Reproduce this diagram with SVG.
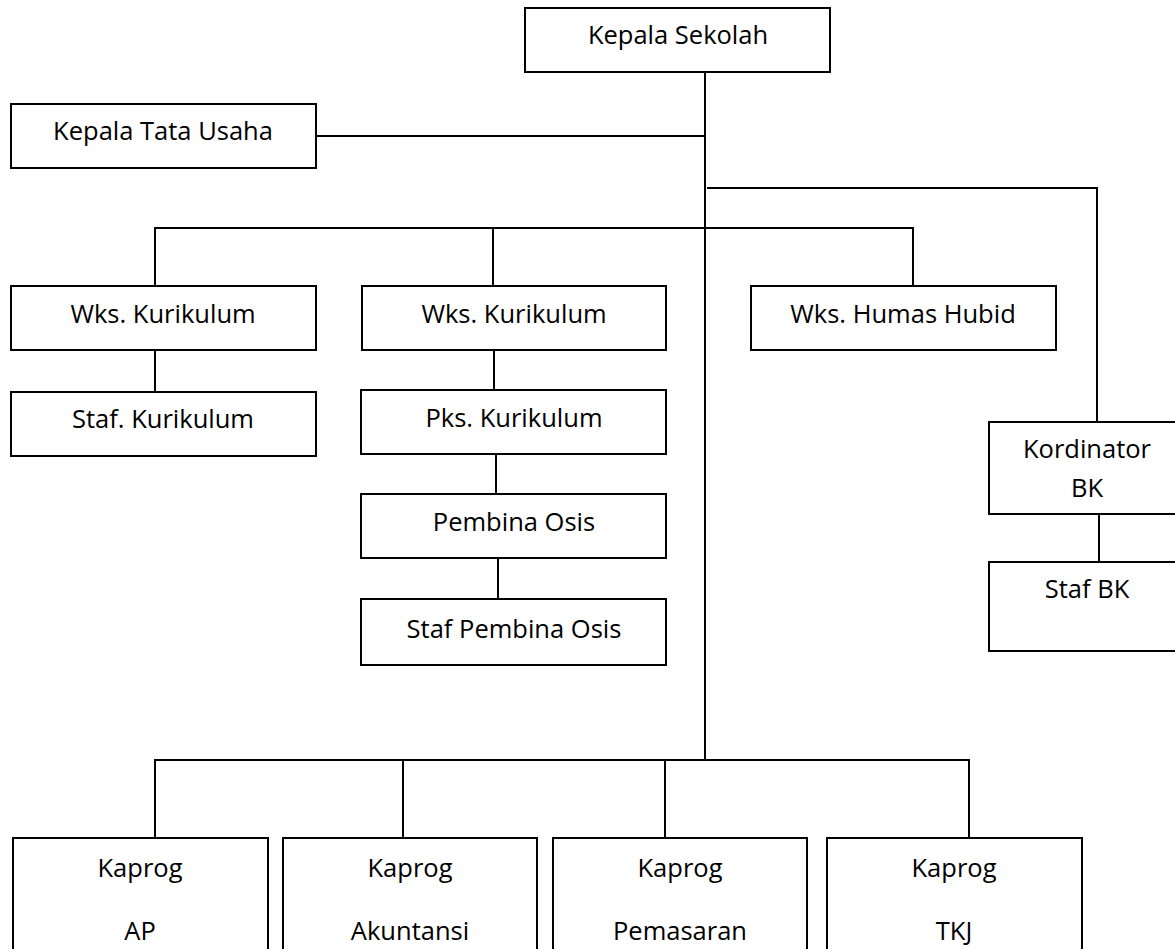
<svg xmlns="http://www.w3.org/2000/svg" width="1175" height="949" viewBox="0 0 1175 949">
<style>
.box{fill:#fff;stroke:#000;stroke-width:2}
.lbl{font-family:"Open Sans","Noto Sans","Liberation Sans",sans-serif;font-size:25.5px;fill:#000;text-anchor:middle}
.con{fill:none;stroke:#000;stroke-width:2}
</style>
<rect width="1175" height="949" fill="#fff"/>
<g id="connectors">
<path class="con" d="M705 72V760"/>
<path class="con" d="M316 136H705"/>
<path class="con" d="M707 188H1097V422"/>
<path class="con" d="M155 286V228H913V286"/>
<path class="con" d="M493 228V286"/>
<path class="con" d="M155 350V392"/>
<path class="con" d="M494 350V390"/>
<path class="con" d="M496 454V494"/>
<path class="con" d="M498 558V599"/>
<path class="con" d="M1099 514V562"/>
<path class="con" d="M155 838V760H969V838"/>
<path class="con" d="M403 760V838"/>
<path class="con" d="M665 760V838"/>
</g>
<g id="kepala-sekolah"><rect class="box" x="525" y="8" width="305" height="64"/><text class="lbl" x="678" y="44">Kepala Sekolah</text></g>
<g id="kepala-tata-usaha"><rect class="box" x="11" y="104" width="305" height="64"/><text class="lbl" x="163" y="140">Kepala Tata Usaha</text></g>
<g id="wks-kurikulum-1"><rect class="box" x="11" y="286" width="305" height="64"/><text class="lbl" x="163" y="323">Wks. Kurikulum</text></g>
<g id="staf-kurikulum"><rect class="box" x="11" y="392" width="305" height="64"/><text class="lbl" x="163" y="428">Staf. Kurikulum</text></g>
<g id="wks-kurikulum-2"><rect class="box" x="362" y="286" width="304" height="64"/><text class="lbl" x="514" y="323">Wks. Kurikulum</text></g>
<g id="pks-kurikulum"><rect class="box" x="361" y="390" width="305" height="64"/><text class="lbl" x="514" y="427">Pks. Kurikulum</text></g>
<g id="pembina-osis"><rect class="box" x="361" y="494" width="305" height="64"/><text class="lbl" x="514" y="531">Pembina Osis</text></g>
<g id="staf-pembina-osis"><rect class="box" x="361" y="599" width="305" height="66"/><text class="lbl" x="514" y="638">Staf Pembina Osis</text></g>
<g id="wks-humas-hubid"><rect class="box" x="751" y="286" width="305" height="64"/><text class="lbl" x="903" y="323">Wks. Humas Hubid</text></g>
<g id="kordinator-bk"><rect class="box" x="989" y="422" width="196" height="92"/><text class="lbl" x="1087" y="458">Kordinator</text><text class="lbl" x="1087" y="497">BK</text></g>
<g id="staf-bk"><rect class="box" x="989" y="562" width="196" height="89"/><text class="lbl" x="1087" y="598">Staf BK</text></g>
<g id="kaprog-ap"><rect class="box" x="13" y="838" width="255" height="130"/><text class="lbl" x="140" y="877">Kaprog</text><text class="lbl" x="140" y="940">AP</text></g>
<g id="kaprog-akuntansi"><rect class="box" x="283" y="838" width="254" height="130"/><text class="lbl" x="410" y="877">Kaprog</text><text class="lbl" x="410" y="940">Akuntansi</text></g>
<g id="kaprog-pemasaran"><rect class="box" x="553" y="838" width="254" height="130"/><text class="lbl" x="680" y="877">Kaprog</text><text class="lbl" x="680" y="940">Pemasaran</text></g>
<g id="kaprog-tkj"><rect class="box" x="827" y="838" width="255" height="130"/><text class="lbl" x="954" y="877">Kaprog</text><text class="lbl" x="954" y="940">TKJ</text></g>
</svg>
